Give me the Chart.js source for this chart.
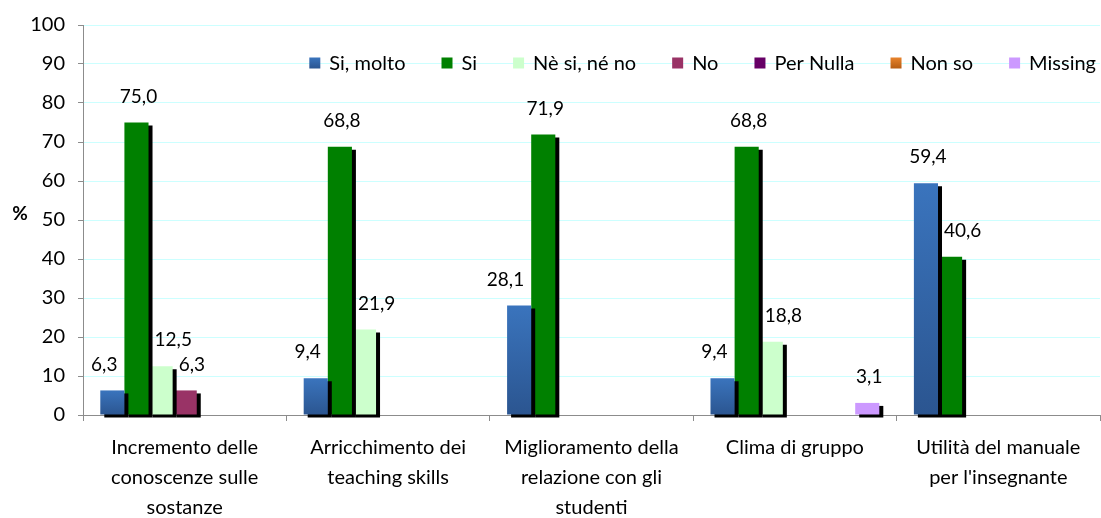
<!DOCTYPE html>
<html>
<head>
<meta charset="utf-8">
<script src="https://cdn.jsdelivr.net/npm/chart.js@4/dist/chart.umd.min.js"></script>
<style>
  html, body { margin: 0; padding: 0; background: #fff; }
  #wrap { width: 1101px; height: 518px; }
</style>
</head>
<body>
<div id="wrap"><canvas id="grafico"></canvas></div>
<script>
const categories = [
  ["Incremento delle", "conoscenze sulle", "sostanze"],
  ["Arricchimento dei", "teaching skills"],
  ["Miglioramento della", "relazione con gli", "studenti"],
  ["Clima di gruppo"],
  ["Utilità del manuale", "per l'insegnante"],
];
const seriesNames = ["Si, molto", "Si", "Nè si, né no", "No", "Per Nulla", "Non so", "Missing"];
const siMolto = [6.3, 9.4, 28.1, 9.4, 59.4];
const si = [75.0, 68.8, 71.9, 68.8, 40.6];
const neSiNeNo = [12.5, 21.9, 0, 18.8, 0];
const no = [6.3, 0, 0, 0, 0];
const perNulla = [0, 0, 0, 0, 0];
const nonSo = [0, 0, 0, 0, 0];
const missing = [0, 0, 0, 3.1, 0];
const yMax = 100;
const yStep = 10;

const FONT = "Lato, 'Open Sans', sans-serif";

// colori (alto, basso) per il gradiente delle barre
const palette = [
  ["#3a74bd", "#2b5590"],
  ["#008000", "#008000"],
  ["#ccffcc", "#ccffcc"],
  ["#993366", "#993366"],
  ["#660066", "#660066"],
  ["#e8832c", "#b55c12"],
  ["#cc99ff", "#cc99ff"],
];

function barFill(top, bottom) {
  return (ctx) => {
    if (top === bottom) return top;
    const chart = ctx.chart;
    if (!chart.chartArea || ctx.type !== "data" || !chart.scales.y) return top;
    const y = chart.scales.y;
    const y0 = y.getPixelForValue(ctx.raw);
    const y1 = y.getPixelForValue(0);
    if (!isFinite(y0) || y0 === y1) return top;
    const g = chart.ctx.createLinearGradient(0, y0, 0, y1);
    g.addColorStop(0, top);
    g.addColorStop(1, bottom);
    return g;
  };
}

const allSeries = [siMolto, si, neSiNeNo, no, perNulla, nonSo, missing];

const datasets = allSeries.map((values, i) => ({
  label: seriesNames[i],
  data: values,
  backgroundColor: barFill(palette[i][0], palette[i][1]),
  borderWidth: 0,
  categoryPercentage: 0.83,
  barPercentage: 1,
  clip: false,
}));

// ombra nera delle barre + etichette dei valori
const shadowAndLabels = {
  id: "shadowAndLabels",
  beforeDatasetsDraw(chart) {
    const c = chart.ctx;
    c.save();
    c.shadowColor = "#000";
    c.shadowOffsetX = 4;
    c.shadowOffsetY = 3;
    c.shadowBlur = 0;
  },
  afterDatasetsDraw(chart) {
    const c = chart.ctx;
    c.restore();
    c.save();
    c.font = "19px " + FONT;
    c.fillStyle = "#000";
    c.textAlign = "center";
    c.textBaseline = "middle";
    const n = chart.data.datasets.length;
    chart.data.datasets.forEach((ds, i) => {
      const meta = chart.getDatasetMeta(i);
      meta.data.forEach((bar, j) => {
        const v = ds.data[j];
        if (!v) return;
        const txt = v.toFixed(1).replace(".", ",");
        const w = c.measureText(txt).width;
        const cy = bar.y - 26;
        let cx = bar.x + 2;
        // evita le barre vicine più alte (come fa Excel)
        const prev = i > 0 ? chart.getDatasetMeta(i - 1).data[j] : null;
        const next = i < n - 1 ? chart.getDatasetMeta(i + 1).data[j] : null;
        if (prev && chart.data.datasets[i - 1].data[j] && prev.y < cy + 10) {
          const minLeft = prev.x + prev.width / 2 + 6;
          if (cx - w / 2 < minLeft) cx = minLeft + w / 2;
        } else if (next && chart.data.datasets[i + 1].data[j] && next.y < cy + 10) {
          const maxRight = next.x - next.width / 2 - 7;
          if (cx + w / 2 > maxRight) cx = maxRight - w / 2;
        }
        c.fillText(txt, cx, cy);
      });
    });
    c.restore();
  },
};

// legenda dentro l'area del grafico e simbolo "%"
const extras = {
  id: "extras",
  afterDraw(chart) {
    const c = chart.ctx;
    const area = chart.chartArea;
    c.save();
    c.font = "bold 19px " + FONT;
    c.fillStyle = "#000";
    c.textAlign = "center";
    c.textBaseline = "middle";
    c.fillText("%", 20, 214);

    c.font = "20px " + FONT;
    c.textAlign = "left";
    const box = 11, gap = 9, spacing = 36;
    const widths = seriesNames.map((s) => box + gap + c.measureText(s).width);
    const total = widths.reduce((a, b) => a + b, 0) + spacing * (widths.length - 1);
    let x = area.right - 4 - total;
    const yc = 63;
    seriesNames.forEach((name, i) => {
      const g = c.createLinearGradient(0, yc - box / 2, 0, yc + box / 2);
      g.addColorStop(0, palette[i][0]);
      g.addColorStop(1, palette[i][1]);
      c.fillStyle = g;
      c.fillRect(x, yc - box / 2, box, box);
      c.fillStyle = "#000";
      c.fillText(name, x + box + gap, yc + 1);
      x += widths[i] + spacing;
    });
    c.restore();
  },
};

new Chart(document.getElementById("grafico"), {
  type: "bar",
  data: { labels: categories, datasets: datasets },
  options: {
    responsive: true,
    maintainAspectRatio: false,
    animation: false,
    layout: { padding: { top: 21, right: 1, left: 0, bottom: 0 } },
    plugins: {
      legend: { display: false },
      tooltip: { enabled: false },
    },
    scales: {
      x: {
        grid: {
          offset: true,
          drawOnChartArea: false,
          drawTicks: true,
          tickLength: 6,
          color: "#8c8c8c",
        },
        border: { color: "#8c8c8c", width: 1 },
        ticks: {
          color: "#000",
          font: { family: FONT, size: 20, lineHeight: 1.5 },
          padding: 12,
          maxRotation: 0,
          autoSkip: false,
        },
        afterFit(scale) {
          scale.height = 103;
        },
      },
      y: {
        min: 0,
        max: yMax,
        ticks: {
          stepSize: yStep,
          color: "#000",
          font: { family: FONT, size: 20 },
          padding: 13,
        },
        grid: {
          color: "#ccffff",
          tickColor: "#8c8c8c",
          tickLength: 5,
        },
        border: { color: "#8c8c8c", width: 1 },
        afterFit(scale) {
          scale.width = 83;
        },
      },
    },
  },
  plugins: [shadowAndLabels, extras],
});
</script>
</body>
</html>
